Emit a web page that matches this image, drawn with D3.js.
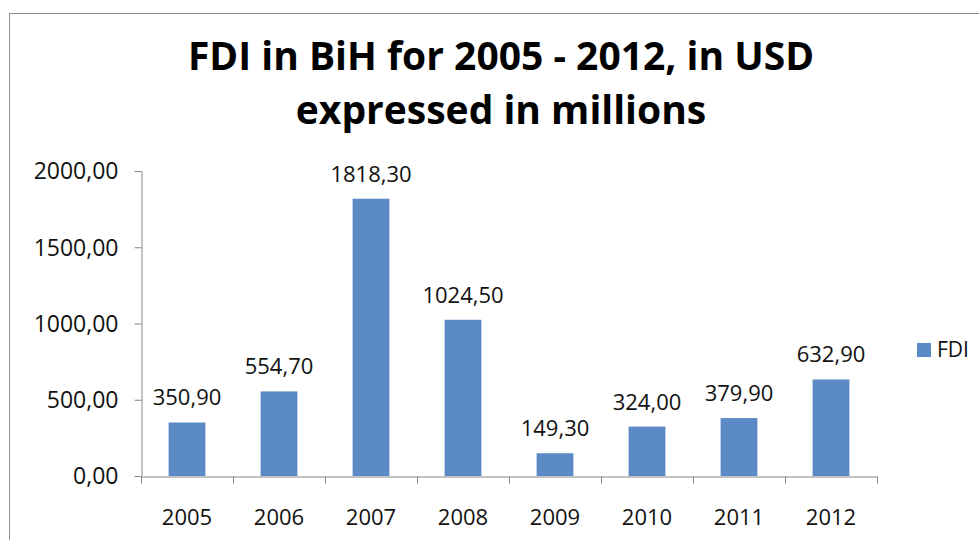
<!DOCTYPE html>
<html lang="en">
<head>
    <meta charset="UTF-8">
    <title>FDI in BiH 2005 - 2012</title>
    <script src="https://d3js.org/d3.v7.min.js"></script>
    <style>
        body { margin: 0; background: #fff; }
        text { font-family: "Open Sans", "Liberation Sans", sans-serif; fill: #111; }
        .title { font-weight: bold; font-size: 39px; fill: #000; }
        .axis path, .axis line { stroke: #878787; }
    </style>
</head>
<body>
    <svg class="chart"></svg>
    <script>
        // Data
        const years = ["2005", "2006", "2007", "2008", "2009", "2010", "2011", "2012"];
        const fdi = [350.90, 554.70, 1818.30, 1024.50, 149.30, 324.00, 379.90, 632.90];
        const yTicks = [0, 500, 1000, 1500, 2000];
        const seriesName = "FDI";
        const titleLines = ["FDI in BiH for 2005 - 2012, in USD", "expressed in millions"];

        const width = 979, height = 540;
        const plot = { left: 141, right: 877, top: 171, bottom: 476 };
        const barColor = "#5b8ac6";

        const comma = d => d3.format(".2f")(d).replace(".", ",");

        const svg = d3.select(".chart")
            .attr("width", width)
            .attr("height", height);

        // chart area border (right/bottom edges run off the picture)
        svg.append("rect")
            .attr("x", 9.5).attr("y", 13.5)
            .attr("width", 1000).attr("height", 600)
            .attr("fill", "none")
            .attr("stroke", "#8c8c8c");

        // Title
        svg.append("g").selectAll("text")
            .data(titleLines)
            .join("text")
            .attr("class", "title")
            .attr("x", 501)
            .attr("y", (d, i) => 70 + i * 54)
            .attr("text-anchor", "middle")
            .text(d => d);

        // Scales
        const x = d3.scaleBand()
            .domain(years)
            .range([plot.left, plot.right])
            .paddingInner(0.6)
            .paddingOuter(0.3);

        const xCat = d3.scaleBand()
            .domain(years)
            .range([plot.left, plot.right]);

        const y = d3.scaleLinear()
            .domain([0, 2000])
            .range([plot.bottom, plot.top]);

        // Y axis
        const yAxis = svg.append("g")
            .attr("class", "axis")
            .attr("transform", `translate(${plot.left + 0.5},0)`)
            .call(d3.axisLeft(y).tickValues(yTicks).tickSize(7).tickPadding(16).tickFormat(comma).tickSizeOuter(0));
        yAxis.selectAll("text").attr("font-size", "23px").style("fill", "#111").attr("dy", "0.34em");

        // X axis: labels centred on categories, ticks on the category boundaries
        const xAxis = svg.append("g")
            .attr("class", "axis")
            .attr("transform", `translate(0,${plot.bottom + 0.5})`)
            .call(d3.axisBottom(xCat).tickSize(0).tickPadding(33).tickSizeOuter(0));
        xAxis.selectAll("text").attr("font-size", "22px").style("fill", "#111");

        const bounds = years.map(d => xCat(d)).concat([plot.right]);
        xAxis.selectAll(".bound")
            .data(bounds)
            .join("line")
            .attr("class", "bound")
            .attr("x1", d => Math.round(d) + 0.5)
            .attr("x2", d => Math.round(d) + 0.5)
            .attr("y1", 0)
            .attr("y2", 7)
            .attr("stroke", "#878787");

        // Bars
        svg.append("g").selectAll("rect")
            .data(fdi)
            .join("rect")
            .attr("x", (d, i) => x(years[i]))
            .attr("y", d => y(d))
            .attr("width", x.bandwidth())
            .attr("height", d => y(0) - y(d))
            .attr("fill", barColor);

        // Value labels
        svg.append("g").selectAll("text")
            .data(fdi)
            .join("text")
            .attr("x", (d, i) => x(years[i]) + x.bandwidth() / 2)
            .attr("y", d => y(d) - 17)
            .attr("text-anchor", "middle")
            .attr("font-size", "22px")
            .text(d => comma(d));

        // Legend
        const legend = svg.append("g").attr("transform", "translate(917,343)");
        legend.append("rect")
            .attr("width", 14).attr("height", 14)
            .attr("fill", barColor);
        legend.append("text")
            .attr("x", 20).attr("y", 7)
            .attr("dy", "0.35em")
            .attr("font-size", "21px")
            .text(seriesName);
    </script>
</body>
</html>
